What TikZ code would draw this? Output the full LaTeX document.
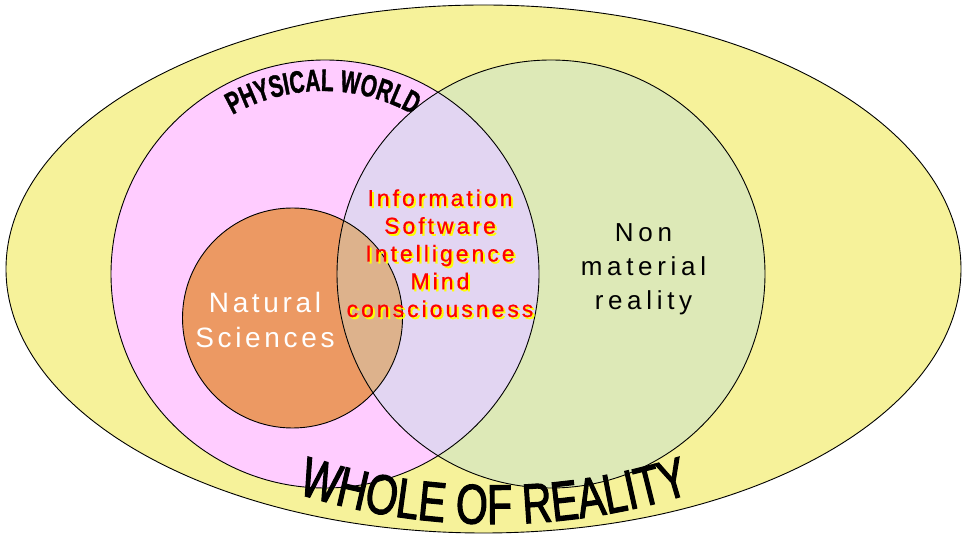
\documentclass[tikz,border=0pt]{standalone}
\usepackage{fontspec}
\setmainfont{Liberation Sans}
\newfontfamily\lsA[LetterSpace=13]{Liberation Sans}
\newfontfamily\lsC[LetterSpace=13,FakeBold=0.6]{Liberation Sans}
\newfontfamily\lsB[LetterSpace=18]{Liberation Sans}
\newfontfamily\pwfont[FakeStretch=0.67,FakeBold=1.2]{Liberation Sans Bold}
\newfontfamily\wrfont[FakeStretch=0.73,FakeBold=2]{Liberation Sans}
\usetikzlibrary{decorations.text}
\definecolor{ryellow}{RGB}{246,242,154}
\definecolor{rpink}{RGB}{255,204,255}
\definecolor{rgreen}{RGB}{221,233,183}
\definecolor{rlav}{RGB}{226,213,242}
\definecolor{rorange}{RGB}{236,153,99}
\definecolor{rtan}{RGB}{221,178,140}
\definecolor{rred}{RGB}{255,0,0}
\definecolor{rshadow}{RGB}{255,255,0}
\begin{document}
\begin{tikzpicture}[x=1pt,y=1pt,
  outline/.style={draw=black,line width=0.9pt},
  natstyle/.style={text=white,font=\lsA\fontsize{28}{28}\selectfont,inner sep=0pt,anchor=base},
  nonstyle/.style={text=black,font=\lsB\fontsize{26}{26}\selectfont,inner sep=0pt,anchor=base},
  infostyle/.style={text=rred,font=\lsC\fontsize{23}{23}\selectfont,inner sep=0pt,anchor=base},
  infoshadow/.style={infostyle,text=rshadow}]
\useasboundingbox (0,0) rectangle (962,535);
% fills
\fill[ryellow] (483.5,266) ellipse [x radius=477.5, y radius=264];
\fill[rpink] (325,261) circle [radius=214];
\fill[rorange] (292.5,217) circle [radius=110];
\fill[rgreen] (551,261) circle [radius=214];
\begin{scope}
  \clip (551,261) circle [radius=214];
  \fill[rlav] (325,261) circle [radius=214];
  \fill[rtan] (292.5,217) circle [radius=110];
\end{scope}
% outlines
\draw[outline] (483.5,266) ellipse [x radius=477.5, y radius=264];
\draw[outline] (325,261) circle [radius=214];
\draw[outline] (292.5,217) circle [radius=110];
\draw[outline] (551,261) circle [radius=214];
% arched titles
\path[decorate,decoration={text along path,text align=center,
  text={|\pwfont\fontsize{31}{31}\selectfont|PHYSICAL WORLD}}]
  ([shift={(130:183)}]323,261) arc [start angle=130,end angle=50,radius=183];
\path[decorate,decoration={text along path,text align=center,
  text={|\wrfont\fontsize{56}{56}\selectfont|WHOLE OF REALITY}}]
  ([shift={(250:650)}]494,661) arc [start angle=250,end angle=290,radius=650];
% Natural Sciences
\node[natstyle] (nat1) at (265,222) {Natural};
\node[natstyle] (nat2) at (265,187) {Sciences};
% Non material reality
\node[nonstyle] (non1) at (643.5,293) {Non};
\node[nonstyle] (non2) at (643.5,259) {material};
\node[nonstyle] (non3) at (643.5,225) {reality};
% overlap text with shadow
\foreach \t/\yy [count=\i] in {Information/206,Software/233.75,Intelligence/261.5,Mind/289.25,consciousness/317}{
  \node[infoshadow] (sh\i) at (442,{533-\yy}) {\t};
  \node[infostyle] (inf\i) at (440,{535-\yy}) {\t};
}
\end{tikzpicture}
\end{document}
